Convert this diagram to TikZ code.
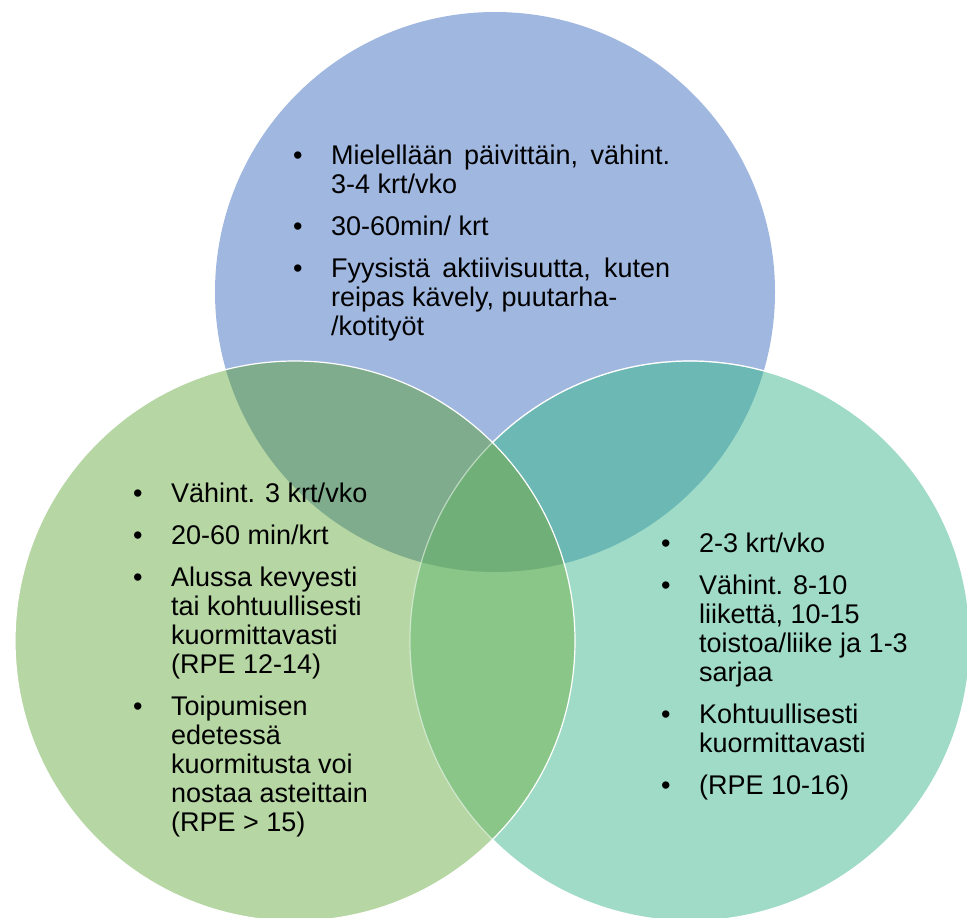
\documentclass[tikz,border=0pt]{standalone}
\usepackage{fontspec}
\setmainfont{Liberation Sans}
\usepackage{xcolor}
\usepackage{tikz}

\definecolor{ylavari}{RGB}{160,183,224}
\definecolor{vasenvari}{RGB}{182,214,163}
\definecolor{oikeavari}{RGB}{160,219,200}
\definecolor{vasenyla}{RGB}{127,172,140}
\definecolor{ylaoikea}{RGB}{108,184,181}
\definecolor{vasenoikea}{RGB}{137,198,135}
\definecolor{keskivari}{RGB}{112,176,120}

\newcommand{\kohta}[1]{\par\noindent\hangindent=38pt\hangafter=1\makebox[38pt][l]{\textbullet}#1}
\newcommand{\lista}[2]{\parbox[t]{#1}{\setlength{\parskip}{13pt}#2}}

\tikzset{teksti/.style={inner sep=0pt, anchor=base west, font=\fontsize{27}{29}\selectfont}}

\begin{document}
\begin{tikzpicture}[x=1pt,y=-1pt]

	\def\sade{280pt}
	\useasboundingbox (0,0) rectangle (967,918);
%	\draw[style=help lines, step=50] (0,0) grid (967,918);

	\coordinate (ylakeskus) at (495,292);
	\coordinate (vasenkeskus) at (295,641);
	\coordinate (oikeakeskus) at (690,641);

	\fill[ylavari] (ylakeskus) circle (\sade);
	\fill[vasenvari] (vasenkeskus) circle (\sade);
	\fill[oikeavari] (oikeakeskus) circle (\sade);

	\begin{scope}
		\clip (ylakeskus) circle (\sade);
		\fill[ylaoikea] (oikeakeskus) circle (\sade);
	\end{scope}
	\begin{scope}
		\clip (vasenkeskus) circle (\sade);
		\fill[vasenyla] (ylakeskus) circle (\sade);
		\fill[vasenoikea] (oikeakeskus) circle (\sade);
		\clip (ylakeskus) circle (\sade);
		\fill[keskivari] (oikeakeskus) circle (\sade);
	\end{scope}

	% valkoiset reunat
	\draw[white, line width=1.2pt, opacity=0.5] (oikeakeskus) circle (\sade);
	\begin{scope}[even odd rule]
		\clip (0,0) rectangle (967,918) (vasenkeskus) circle (\sade);
		\draw[white, line width=1.2pt] (oikeakeskus) circle (\sade);
	\end{scope}
	\draw[white, line width=1.2pt] (vasenkeskus) circle (\sade);

	\node[teksti] (ylateksti) at (293,164) {\lista{377pt}{%
		\kohta{Mielellään päivittäin, vähint.\linebreak 3-4 krt/vko}
		\kohta{30-60min/ krt}
		\kohta{Fyysistä aktiivisuutta, kuten\linebreak reipas kävely, puutarha-\newline /kotityöt}}};

	\node[teksti] (vasenteksti) at (133,502) {\lista{260pt}{\raggedright
		\kohta{Vähint. 3 krt/vko}
		\kohta{20-60 min/krt}
		\kohta{Alussa kevyesti\newline tai kohtuullisesti\newline kuormittavasti\newline (RPE 12-14)}
		\kohta{Toipumisen\newline edetessä\newline kuormitusta voi\newline nostaa asteittain\newline (RPE > 15)}}};

	\node[teksti] (oikeateksti) at (661,552) {\lista{280pt}{\raggedright
		\kohta{2-3 krt/vko}
		\kohta{Vähint. 8-10\newline liikettä, 10-15\newline toistoa/liike ja 1-3\newline sarjaa}
		\kohta{Kohtuullisesti\newline kuormittavasti}
		\kohta{(RPE 10-16)}}};

\end{tikzpicture}
\end{document}
